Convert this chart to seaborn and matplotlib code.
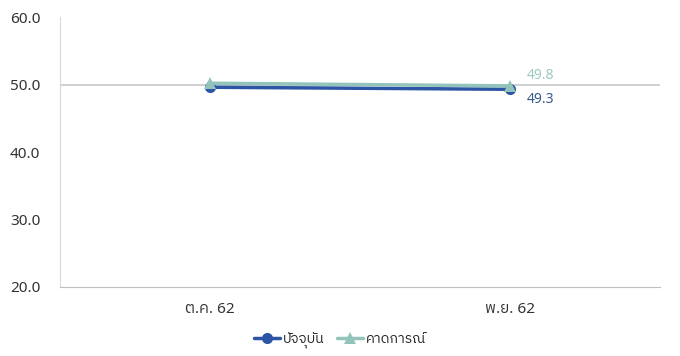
import pandas as pd
import numpy as np
import matplotlib
matplotlib.use("Agg")
import matplotlib.pyplot as plt
import seaborn as sns
from matplotlib import font_manager, ft2font

months = ["ต.ค. 62", "พ.ย. 62"]
current = [49.6, 49.3]
forecast = [50.2, 49.8]
series_names = ["ปัจจุบัน", "คาดการณ์"]
y_ticks = [20.0, 30.0, 40.0, 50.0, 60.0]

# find fonts with Thai glyphs, prefer a loopless sans one
thai_fonts = []
for f in font_manager.fontManager.ttflist:
    try:
        if 0x0E1B in ft2font.FT2Font(f.fname).get_charmap():
            thai_fonts.append(f.name)
    except Exception:
        pass
thai = None
for name in thai_fonts:
    if "Sans" in name and "Loop" not in name and "Thai" in name:
        thai = name
        break
if thai is None and thai_fonts:
    thai = thai_fonts[0]

sns.set_style("white")
plt.rcParams["font.family"] = ["Noto Sans", thai] if thai else ["Noto Sans", "DejaVu Sans"]

data = pd.DataFrame({
    "month": months * 2,
    "value": current + forecast,
    "series": [series_names[0]] * 2 + [series_names[1]] * 2,
})

fig = plt.figure(figsize=(6.8, 3.56), dpi=100)
ax = fig.add_axes([0.088, 0.194, 0.882, 0.758])

c_cur = "#2d55a5"
c_fc = "#92c4bc"
ax.axhline(50, color="#c8c8c8", lw=1.2, zorder=0)
sns.lineplot(data=data[data.series == series_names[0]], x="month", y="value",
             color=c_cur, marker="o", markersize=9, lw=3, ax=ax, label=series_names[0],
             markeredgewidth=0)
sns.lineplot(data=data[data.series == series_names[1]], x="month", y="value",
             color=c_fc, marker="^", markersize=9, lw=3, ax=ax, label=series_names[1],
             markeredgewidth=0)

ax.annotate(f"{forecast[1]:.1f}", (1, forecast[1]), xytext=(12, 2), textcoords="offset points",
            color="#9ccac3", fontsize=10, va="bottom")
ax.annotate(f"{current[1]:.1f}", (1, current[1]), xytext=(12, -2), textcoords="offset points",
            color="#3a5a8c", fontsize=10, va="top")

ax.set_xlim(-0.5, 1.5)
ax.set_ylim(20, 60)
ax.set_yticks(y_ticks)
ax.set_yticklabels([f"{v:.1f}" for v in y_ticks])
ax.tick_params(axis="both", length=0, labelsize=11, colors="#333333")
ax.tick_params(axis="y", pad=14)
ax.tick_params(axis="x", pad=11)
ax.set_xlabel("")
ax.set_ylabel("")
for s in ["top", "right"]:
    ax.spines[s].set_visible(False)
ax.spines["left"].set_color("#d9d9d9")
ax.spines["bottom"].set_color("#bfbfbf")

ax.get_legend().remove()
h, l = ax.get_legend_handles_labels()
for hh in h:
    hh.set_markersize(8)
    hh.set_linewidth(2.5)
fig.legend(h, l, loc="center", bbox_to_anchor=(0.5, 0.045), ncol=2, frameon=False,
           fontsize=10, handlelength=1.9, columnspacing=0.9, handletextpad=0.2)

fig.savefig("out.png", dpi=100)
